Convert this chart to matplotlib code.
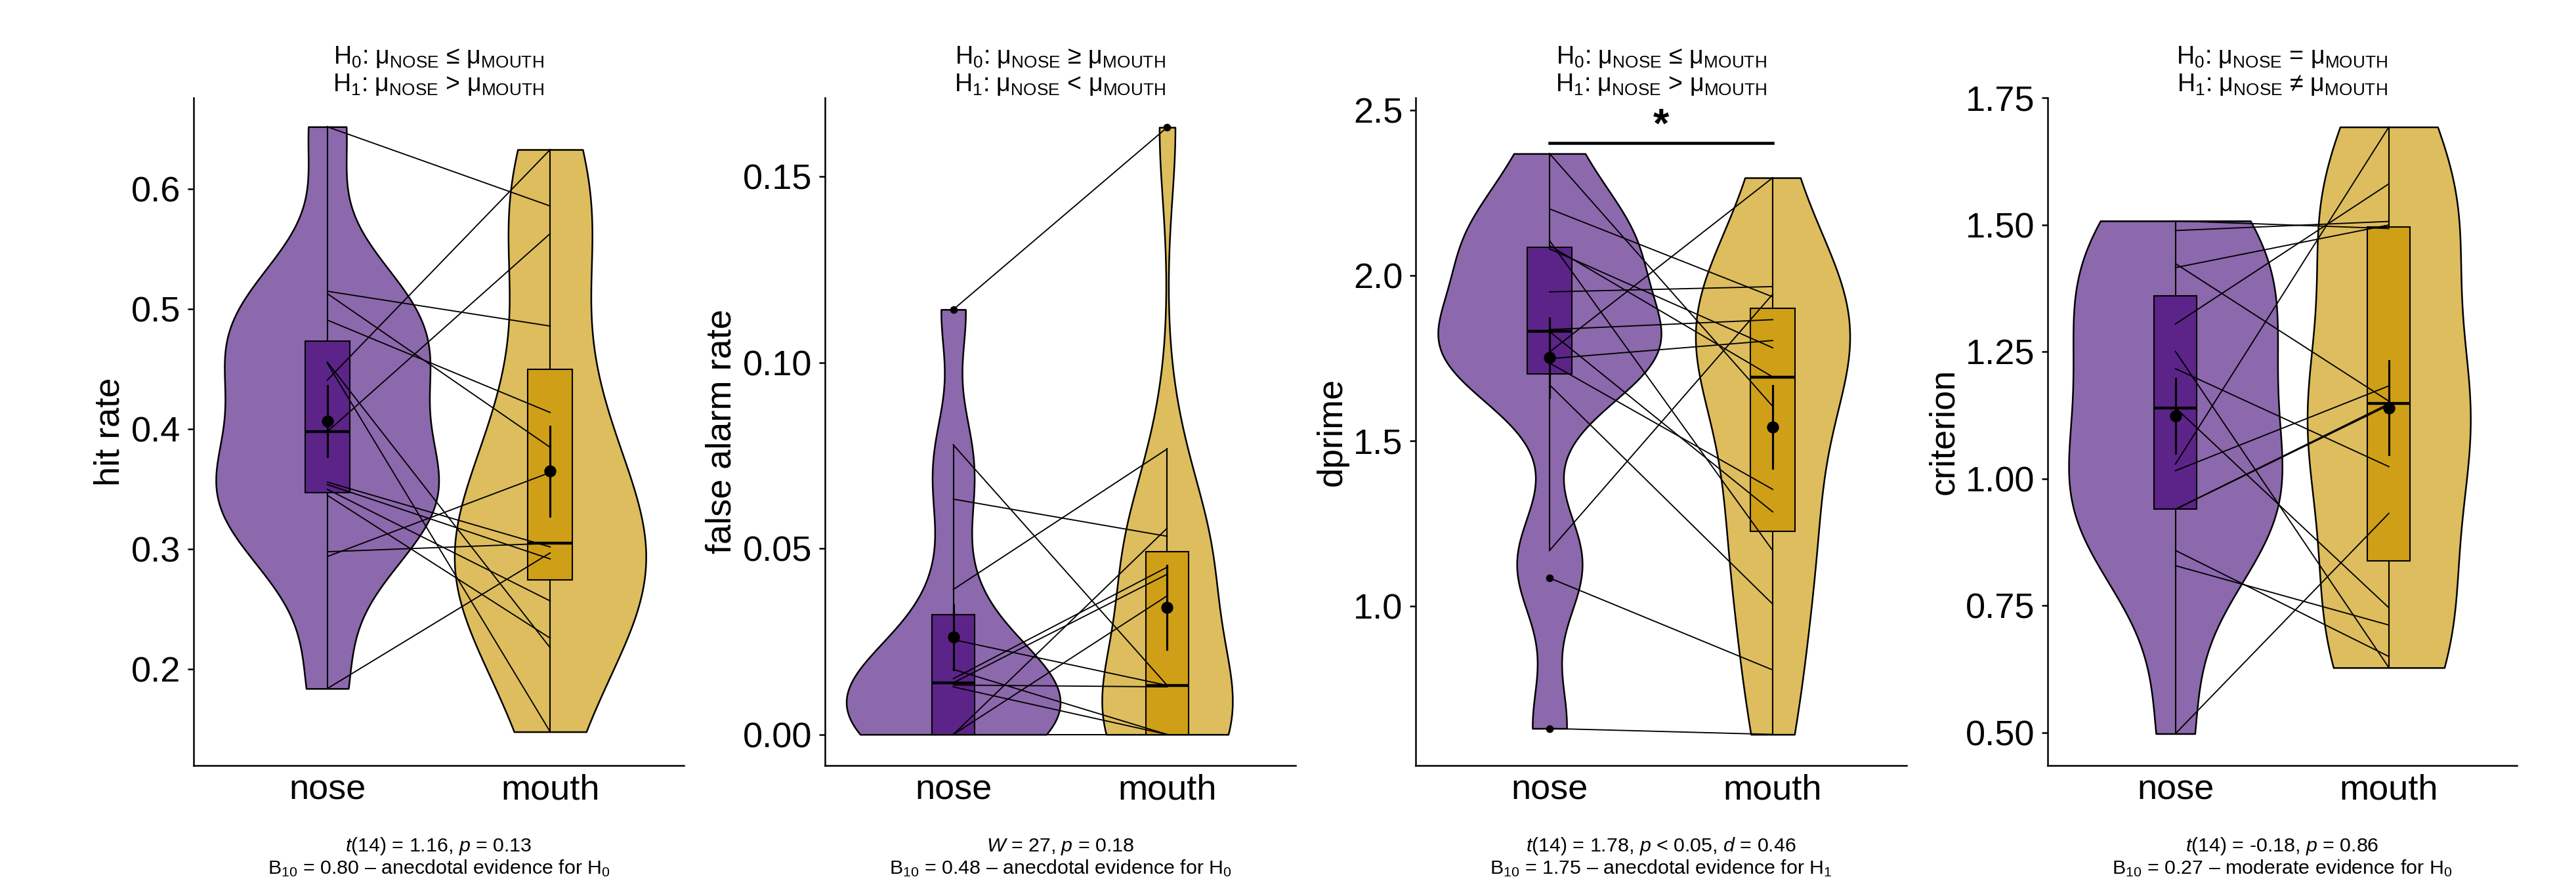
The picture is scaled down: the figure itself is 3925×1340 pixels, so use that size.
import numpy as np
import matplotlib
matplotlib.use("Agg")
import matplotlib.pyplot as plt
from matplotlib.patches import Rectangle

plt.rcParams["font.family"] = ["Liberation Sans", "DejaVu Sans"]
plt.rcParams["mathtext.fontset"] = "custom"
plt.rcParams["mathtext.rm"] = "Liberation Sans"
plt.rcParams["mathtext.it"] = "Liberation Sans:italic"
plt.rcParams["mathtext.bf"] = "Liberation Sans:bold"

groups = ["nose", "mouth"]

# one value per participant, same order in both conditions
nose_hit = [0.652, 0.515, 0.513, 0.491, 0.456, 0.455, 0.441, 0.398, 0.356, 0.354, 0.350, 0.345, 0.298, 0.294, 0.184]
mouth_hit = [0.586, 0.486, 0.385, 0.414, 0.218, 0.148, 0.633, 0.563, 0.302, 0.292, 0.257, 0.226, 0.305, 0.364, 0.297]

nose_fa = [0.1143, 0.0779, 0.0633, 0.0390, 0.0255, 0.0175, 0.0150, 0.0139, 0.0133, 0.0128, 0, 0, 0, 0, 0]
mouth_fa = [0.1633, 0.0132, 0.0533, 0.0768, 0.0132, 0, 0.0450, 0.0431, 0.0128, 0, 0.0373, 0.0555, 0, 0, 0]

nose_dp = [2.368, 2.201, 2.105, 2.090, 2.080, 1.950, 1.836, 1.830, 1.768, 1.748, 1.735, 1.669, 1.168, 1.085, 0.630]
mouth_dp = [1.604, 1.935, 1.168, 1.693, 1.781, 1.966, 1.866, 1.285, 2.295, 1.803, 1.353, 1.006, 1.943, 0.807, 0.612]

nose_cr = [1.508, 1.489, 1.424, 1.416, 1.305, 1.251, 1.217, 1.140, 1.029, 1.016, 0.940, 0.940, 0.859, 0.829, 0.498]
mouth_cr = [1.493, 1.507, 1.153, 1.500, 1.581, 0.628, 1.024, 0.746, 1.693, 1.183, 1.148, 1.145, 0.650, 0.712, 0.932]

ylabels = ["hit rate", "false alarm rate", "dprime", "criterion"]
yticks = [[0.2, 0.3, 0.4, 0.5, 0.6], [0.0, 0.05, 0.10, 0.15], [1.0, 1.5, 2.0, 2.5], [0.5, 0.75, 1.0, 1.25, 1.5, 1.75]]
ytick_fmt = ["{:.1f}", "{:.2f}", "{:.1f}", "{:.2f}"]
ylims = [(0.1199, 0.6762), (-0.00835, 0.17126), (0.518, 2.537), (0.4353, 1.7506)]

titles_h0 = [r"H$_0$: μ$_{\mathrm{NOSE}}$ ≤ μ$_{\mathrm{MOUTH}}$",
             r"H$_0$: μ$_{\mathrm{NOSE}}$ ≥ μ$_{\mathrm{MOUTH}}$",
             r"H$_0$: μ$_{\mathrm{NOSE}}$ ≤ μ$_{\mathrm{MOUTH}}$",
             r"H$_0$: μ$_{\mathrm{NOSE}}$ = μ$_{\mathrm{MOUTH}}$"]
titles_h1 = [r"H$_1$: μ$_{\mathrm{NOSE}}$ > μ$_{\mathrm{MOUTH}}$",
             r"H$_1$: μ$_{\mathrm{NOSE}}$ < μ$_{\mathrm{MOUTH}}$",
             r"H$_1$: μ$_{\mathrm{NOSE}}$ > μ$_{\mathrm{MOUTH}}$",
             r"H$_1$: μ$_{\mathrm{NOSE}}$ ≠ μ$_{\mathrm{MOUTH}}$"]
stats_line = [r"$t$(14) = 1.16, $p$ = 0.13",
              r"$W$ = 27, $p$ = 0.18",
              r"$t$(14) = 1.78, $p$ < 0.05, $d$ = 0.46",
              r"$t$(14) = -0.18, $p$ = 0.86"]
bf_line = [r"B$_{10}$ = 0.80 – anecdotal evidence for H$_0$",
           r"B$_{10}$ = 0.48 – anecdotal evidence for H$_0$",
           r"B$_{10}$ = 1.75 – anecdotal evidence for H$_1$",
           r"B$_{10}$ = 0.27 – moderate evidence for H$_0$"]
sig_label = [None, None, "*", None]
sig_y = [None, None, 2.40, None]

violin_colors = ["#8C68AC", "#DDBD5D"]
box_colors = ["#5C2488", "#CF9F17"]

data = [(nose_hit, mouth_hit), (nose_fa, mouth_fa), (nose_dp, mouth_dp), (nose_cr, mouth_cr)]

W, H = 3925, 1340
lefts = [295, 1257, 2157, 3119.5]
rights = [1042, 1974, 2905, 3835]
top_px, bottom_px = 149, 1167


def bw_nrd0(v):
    sd = np.std(v, ddof=1)
    q75, q25 = np.percentile(v, [75, 25])
    lo = min(sd, (q75 - q25) / 1.34)
    if lo == 0:
        lo = sd
    return 0.9 * lo * len(v) ** -0.2


def density(v, grid):
    bw = bw_nrd0(v)
    z = (grid[:, None] - v[None, :]) / bw
    return np.exp(-0.5 * z ** 2).sum(axis=1) / (len(v) * bw * np.sqrt(2 * np.pi))


fig = plt.figure(figsize=(W / 300, H / 300), dpi=300)

for k in range(4):
    ax = fig.add_axes([lefts[k] / W, 1 - bottom_px / H, (rights[k] - lefts[k]) / W, (bottom_px - top_px) / H])
    vals = [np.array(data[k][0], float), np.array(data[k][1], float)]

    grids, dens = [], []
    for v in vals:
        g = np.linspace(v.min(), v.max(), 512)
        grids.append(g)
        dens.append(density(v, g))
    dmax = max(d.max() for d in dens)

    for j, v in enumerate(vals):
        c = j + 1
        hw = 0.5 * dens[j] / dmax
        ax.fill_betweenx(grids[j], c - hw, c + hw, facecolor=violin_colors[j],
                         edgecolor="black", linewidth=0.6, zorder=1)

        q1, med, q3 = np.percentile(v, [25, 50, 75])
        iqr = q3 - q1
        inside = v[(v >= q1 - 1.5 * iqr) & (v <= q3 + 1.5 * iqr)]
        outl = v[(v < q1 - 1.5 * iqr) | (v > q3 + 1.5 * iqr)]
        ax.plot([c, c], [q3, inside.max()], color="black", lw=0.5, zorder=2)
        ax.plot([c, c], [inside.min(), q1], color="black", lw=0.5, zorder=2)
        ax.add_patch(Rectangle((c - 0.1, q1), 0.2, q3 - q1, facecolor=box_colors[j],
                               edgecolor="black", linewidth=0.5, zorder=2))
        ax.plot([c - 0.1, c + 0.1], [med, med], color="black", lw=1.05,
                solid_capstyle="butt", zorder=2)
        if len(outl):
            ax.plot(np.full(len(outl), c), outl, "o", color="black", ms=2.8, mew=0, zorder=4)

    for a, b in zip(vals[0], vals[1]):
        ax.plot([1, 2], [a, b], color="black", lw=0.45, zorder=3)

    for j, v in enumerate(vals):
        m = v.mean()
        se = v.std(ddof=1) / np.sqrt(len(v))
        ax.plot([j + 1, j + 1], [m - se, m + se], color="black", lw=0.75, zorder=4)
        ax.plot(j + 1, m, "o", color="black", ms=4.4, mew=0, zorder=5)

    if sig_label[k]:
        ax.plot([1, 2], [sig_y[k], sig_y[k]], color="black", lw=1.1, zorder=4)
        ax.text(1.5, sig_y[k] + 0.02, sig_label[k], ha="center", va="baseline",
                fontsize=15, fontweight="bold")

    ax.set_xlim(0.4, 2.6)
    ax.set_ylim(*ylims[k])
    ax.set_xticks([1, 2])
    ax.set_xticklabels(groups)
    ax.set_yticks(yticks[k])
    ax.set_yticklabels([ytick_fmt[k].format(t) for t in yticks[k]])
    ax.set_ylabel(ylabels[k], fontsize=13, labelpad=1.8)
    for s in ["top", "right"]:
        ax.spines[s].set_visible(False)
    for s in ["left", "bottom"]:
        ax.spines[s].set_linewidth(0.6)
    ax.tick_params(axis="y", length=2.2, width=0.6, pad=2.5, labelsize=13)
    ax.tick_params(axis="x", length=0, pad=3, labelsize=13)

    cx = (lefts[k] + rights[k]) / 2 / W
    fig.text(cx, 1 - 97 / H, titles_h0[k], ha="center", va="baseline", fontsize=9)
    fig.text(cx, 1 - 139 / H, titles_h1[k], ha="center", va="baseline", fontsize=9)
    fig.text(cx, 1 - 1298 / H, stats_line[k], ha="center", va="baseline", fontsize=7.3)
    fig.text(cx, 1 - 1332 / H, bf_line[k], ha="center", va="baseline", fontsize=7.3)

fig.savefig("out.png", dpi=300)
